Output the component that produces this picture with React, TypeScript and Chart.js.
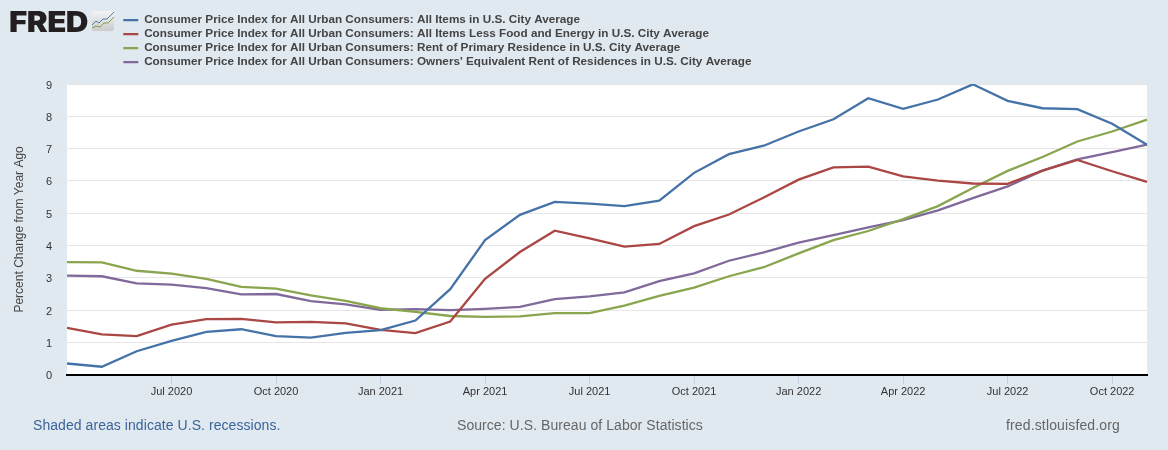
import React, { useEffect, useRef } from "react";
import { Chart, registerables } from "chart.js";

Chart.register(...registerables);

const months = ["Apr 2020","May 2020","Jun 2020","Jul 2020","Aug 2020","Sep 2020","Oct 2020","Nov 2020","Dec 2020","Jan 2021","Feb 2021","Mar 2021","Apr 2021","May 2021","Jun 2021","Jul 2021","Aug 2021","Sep 2021","Oct 2021","Nov 2021","Dec 2021","Jan 2022","Feb 2022","Mar 2022","Apr 2022","May 2022","Jun 2022","Jul 2022","Aug 2022","Sep 2022","Oct 2022","Nov 2022"];
const tickLabels = ["Jul 2020","Oct 2020","Jan 2021","Apr 2021","Jul 2021","Oct 2021","Jan 2022","Apr 2022","Jul 2022","Oct 2022"];

const allItems = [0.35,0.25,0.73,1.05,1.33,1.41,1.2,1.15,1.3,1.38,1.68,2.65,4.17,4.95,5.35,5.3,5.22,5.39,6.25,6.83,7.09,7.53,7.91,8.56,8.23,8.52,8.99,8.48,8.25,8.22,7.77,7.12];
const lessFoodEnergy = [1.45,1.25,1.2,1.55,1.72,1.73,1.62,1.64,1.59,1.39,1.29,1.65,2.97,3.8,4.46,4.22,3.97,4.05,4.6,4.96,5.49,6.04,6.42,6.44,6.14,6.01,5.92,5.91,6.32,6.65,6.3,5.97];
const rentPrimary = [3.49,3.48,3.22,3.13,2.97,2.72,2.67,2.46,2.29,2.06,1.95,1.82,1.79,1.81,1.91,1.91,2.14,2.44,2.7,3.05,3.33,3.76,4.17,4.45,4.82,5.22,5.78,6.31,6.74,7.22,7.53,7.9];
const ownersRent = [3.07,3.05,2.83,2.79,2.68,2.49,2.5,2.28,2.18,2.01,2.03,2.0,2.04,2.1,2.34,2.43,2.55,2.9,3.14,3.53,3.79,4.09,4.32,4.56,4.79,5.09,5.47,5.83,6.32,6.67,6.89,7.12];

const seriesNames = [
  "Consumer Price Index for All Urban Consumers: All Items in U.S. City Average",
  "Consumer Price Index for All Urban Consumers: All Items Less Food and Energy in U.S. City Average",
  "Consumer Price Index for All Urban Consumers: Rent of Primary Residence in U.S. City Average",
  "Consumer Price Index for All Urban Consumers: Owners' Equivalent Rent of Residences in U.S. City Average",
];
const colors = ["#4572a7", "#aa4643", "#89a54e", "#80699b"];
const seriesValues = [allItems, lessFoodEnergy, rentPrimary, ownersRent];

const FONT = "Arial, 'Liberation Sans', sans-serif";

const framePlugin = {
  id: "frame",
  afterLayout(chart: any) {
    if (chart.legend) {
      chart.legend.left = 121;
      chart.legend.top = 12;
    }
  },
  beforeDraw(chart: any) {
    const { ctx, chartArea: a } = chart;
    ctx.save();
    ctx.fillStyle = "#ffffff";
    ctx.fillRect(a.left, a.top, a.right - a.left, a.bottom - a.top);
    ctx.restore();
  },
};

export default function App() {
  const ref = useRef<HTMLCanvasElement>(null);
  useEffect(() => {
    document.body.style.margin = "0";
    const chart = new Chart(ref.current as HTMLCanvasElement, {
      type: "line",
      data: {
        labels: months,
        datasets: seriesNames.map((label, i) => ({
          label,
          data: seriesValues[i],
          borderColor: colors[i],
          backgroundColor: colors[i],
          borderWidth: 2.3,
          pointRadius: 0,
          tension: 0,
        })),
      },
      options: {
        animation: false,
        responsive: false,
        devicePixelRatio: 1,
        layout: { padding: { top: 32, left: 12, right: 21, bottom: 49 } },
        plugins: {
          tooltip: { enabled: false },
          legend: {
            display: true,
            position: "top",
            align: "start",
            labels: {
              boxWidth: 15,
              boxHeight: 0,
              padding: 2.27,
              color: "#444444",
              font: { family: FONT, size: 11.73, weight: "bold" },
            },
          },
        },
        scales: {
          x: {
            type: "category",
            offset: false,
            border: { color: "#000000", width: 2 },
            grid: { drawOnChartArea: false, drawTicks: true, tickLength: 9, tickColor: "#c0d0e0", tickWidth: 1 },
            ticks: {
              autoSkip: false,
              maxRotation: 0,
              padding: 2,
              color: "#333333",
              font: { family: FONT, size: 11 },
              callback(this: any, v: any) {
                const l = months[v as number];
                return tickLabels.includes(l) ? l : null;
              },
            },
          },
          y: {
            min: 0,
            max: 9,
            border: { display: false },
            afterFit(scale: any) { scale.width = 55; },
            grid: { color: "#e6e6e6", lineWidth: 1, drawTicks: false },
            ticks: {
              stepSize: 1,
              padding: 15,
              labelOffset: 1.5,
              color: "#333333",
              font: { family: FONT, size: 11 },
            },
            title: {
              display: true,
              text: "Percent Change from Year Ago",
              color: "#444444",
              font: { family: FONT, size: 12 },
              padding: 0,
            },
          },
        },
      },
      plugins: [framePlugin],
    } as any);
    return () => chart.destroy();
  }, []);

  const foot = (x: number, text: string, color: string, spacing: number) => (
    <div style={{ position: "absolute", left: x, top: 417, font: `14px ${FONT}`, letterSpacing: spacing, color, whiteSpace: "nowrap" }}>{text}</div>
  );

  return (
    <div style={{ position: "absolute", left: 0, top: 0, width: 1168, height: 450, background: "#e1e9f0", overflow: "hidden" }}>
      <canvas ref={ref} width={1168} height={450} style={{ position: "absolute", left: 0, top: 0, display: "block" }} />
      <div style={{ position: "absolute", left: 9, top: 5, font: `900 28px Inter, ${FONT}`, letterSpacing: -0.5, color: "#231f20", lineHeight: "34px", transform: "scaleX(1.12)", transformOrigin: "left top" }}>FRED</div>
      <svg style={{ position: "absolute", left: 92, top: 11 }} width={23} height={21} viewBox="0 0 23 21">
        <defs>
          <linearGradient id="g" x1="0" y1="0" x2="0" y2="1">
            <stop offset="0" stopColor="#f4f4f4" />
            <stop offset="1" stopColor="#c9cbcc" />
          </linearGradient>
        </defs>
        <rect width="22" height="20" rx="2" fill="url(#g)" />
        <polyline points="0,14 4,10 7,12 11,8 15,8 22,1" fill="none" stroke="#4f81a8" strokeWidth="1" />
        <polyline points="0,17 4,15 8,16 12,12 16,12 22,6" fill="none" stroke="#7f9f45" strokeWidth="1" />
      </svg>
      {foot(33, "Shaded areas indicate U.S. recessions.", "#3a6499", 0.06)}
      {foot(457, "Source: U.S. Bureau of Labor Statistics", "#666666", 0.06)}
      {foot(1006, "fred.stlouisfed.org", "#666666", 0.14)}
    </div>
  );
}
